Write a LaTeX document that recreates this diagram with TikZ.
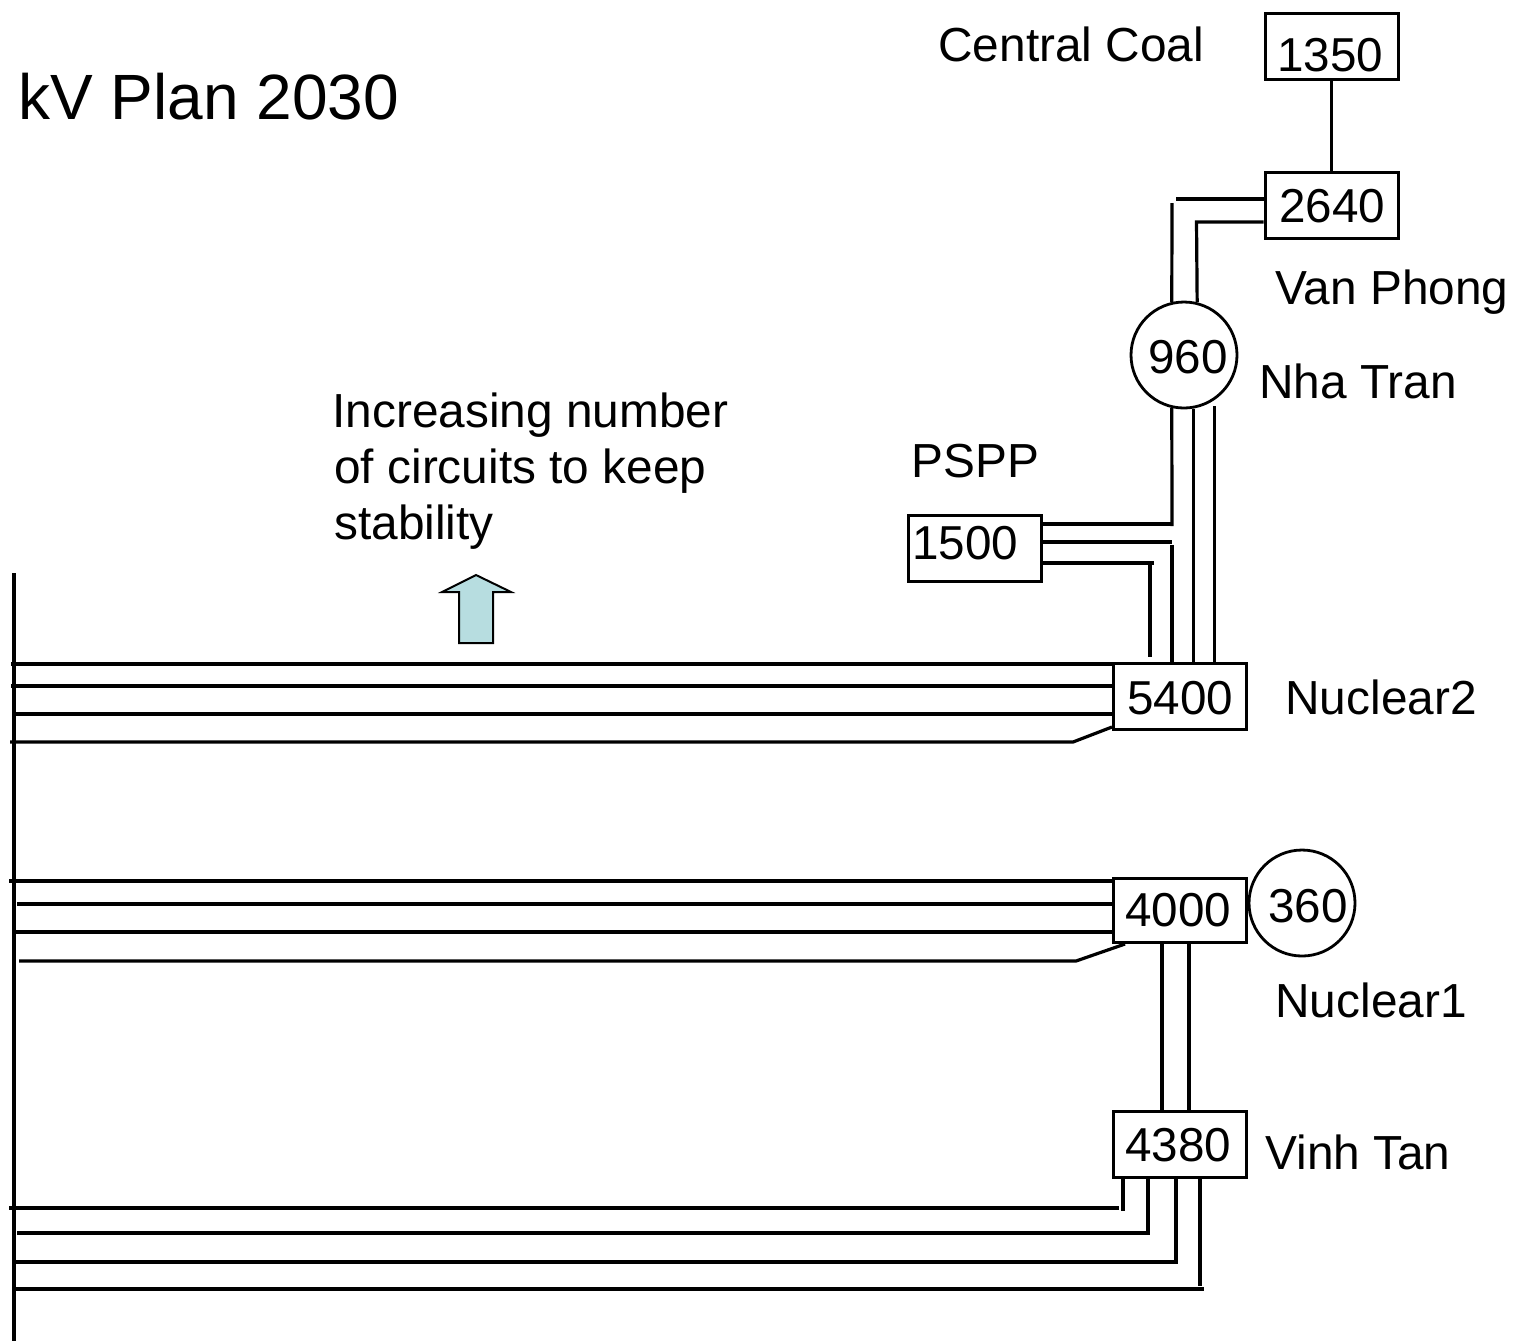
\documentclass[tikz,border=0pt]{standalone}
\usepackage{fontspec}
\setmainfont{Liberation Sans}
\definecolor{arrowfill}{RGB}{183,221,224}
\begin{document}
\begin{tikzpicture}[x=0.5pt,y=-0.5pt,
  wire/.style={line width=1.6pt},
  box/.style={draw, line width=1.5pt, inner sep=0pt, minimum width=66.5pt, minimum height=33pt},
  ring/.style={draw, circle, line width=1.4pt, inner sep=0pt, minimum size=53pt},
  num/.style={inner sep=0pt, anchor=base, font=\fontsize{23.8pt}{28pt}\selectfont},
  lbl/.style={inner sep=0pt, anchor=base west, font=\fontsize{23.9pt}{28pt}\selectfont}]
\useasboundingbox[fill=white] (0,0) rectangle (1518,1341);

% ---- stations ----
\node[box] (b1350) at (1331.5,46.5) {};
\node[box] (b2640) at (1331.5,205.5) {};
\node[box] (b1500) at (974.5,548) {};
\node[box] (b5400) at (1180,696) {};
\node[box, minimum height=32pt] (b4000) at (1180,910.5) {};
\node[box] (b4380) at (1179.5,1144) {};
\node[ring] (c960) at (1184,355) {};
\node[ring] (c360) at (1302,903) {};

% ---- numbers ----
\node[num] (t1350) at (1330,71) {1350};
\node[num] (t2640) at (1332,222) {2640};
\node[num] (t960) at (1188,373) {960};
\node[num] (t1500) at (965,559) {1500};
\node[num] (t5400) at (1180,714) {5400};
\node[num] (t4000) at (1178,926) {4000};
\node[num] (t360) at (1308,922) {360};
\node[num] (t4380) at (1178,1161) {4380};

% ---- labels ----
\node[inner sep=0pt, anchor=base west, font=\fontsize{32pt}{38pt}\selectfont] (title) at (18,119) {kV Plan 2030};
\node[lbl] (lcoal) at (938,61) {Central Coal};
\node[lbl] (lvan) at (1275,304) {Van Phong};
\node[lbl] (lnha) at (1259,398) {Nha Tran};
\node[lbl] (lpspp) at (911,477) {PSPP};
\node[lbl] (lnuc2) at (1285,714) {Nuclear2};
\node[lbl] (lnuc1) at (1275,1017) {Nuclear1};
\node[lbl] (lvinh) at (1265,1169) {Vinh Tan};
\node[lbl] (inc1) at (332,427) {Increasing number};
\node[lbl] (inc2) at (334,483) {of circuits to keep};
\node[lbl] (inc3) at (334,539) {stability};

% ---- up arrow ----
\draw[line width=1pt, fill=arrowfill, line join=miter]
  (476,575) -- (511,592) -- (493,592) -- (493,643) -- (459,643) -- (459,592) -- (442,592) -- cycle;

% ---- left bus ----
\coordinate (bustop) at (14,573);
\coordinate (busbot) at (14,1341);
\draw[wire] (bustop) -- (busbot);

% ---- 1350 - 2640 ----
\draw[wire] (b1350.south) -- (b2640.north);

% ---- 2640 - 960 ----
\draw[wire] (1176,199) -- (0,199 -| b2640.west);
\draw[wire] (1172,203) -- (c960.103);
\draw[wire] (0,222 -| b2640.west) -- (1196.5,222) -- (c960.76);

% ---- 960 - 5400 ----
\draw[wire] (c960.257) -- (1172,526);
\draw[wire] (c960.280) -- (c960.280 |- b5400.north);
\draw[wire] ([yshift=-3pt]c960.304) -- (c960.304 |- b5400.north);

% ---- 1500 - 5400 ----
\draw[wire] (0,524 -| b1500.east) -- (1172,524);
\draw[wire] (0,542 -| b1500.east) -- (1172,542);
\draw[wire] (1172,545) -- (1172,545 |- b5400.north);
\draw[wire] (0,563 -| b1500.east) -- (1154,563);
\draw[wire] (1150,562) -- (1150,657);

% ---- 5400 - bus ----
\draw[wire] (11,664) -- (0,664 -| b5400.west);
\draw[wire] (11,686) -- (0,686 -| b5400.west);
\draw[wire] (15,714) -- (0,714 -| b5400.west);
\draw[wire] (10,742) -- (1073,742) -- (0,727 -| b5400.west);

% ---- 4000 - bus ----
\draw[wire] (9,881) -- (0,881 -| b4000.west);
\draw[wire] (17,904) -- (0,904 -| b4000.west);
\draw[wire] (15,932) -- (0,932 -| b4000.west);
\draw[wire] (19,961) -- (1076,961) -- (1125,944);

% ---- 4000 - 4380 ----
\draw[wire] (1162,943) -- (1162,1110);
\draw[wire] (1189,943) -- (1189,1110);

% ---- 4380 - bus ----
\draw[wire] (9,1208) -- (1119,1208);
\draw[wire] (1123,1178) -- (1123,1211);
\draw[wire] (17,1233) -- (1148,1233) -- (1148,1178);
\draw[wire] (12,1262) -- (1176,1262) -- (1176,1178);
\draw[wire] (15,1289) -- (1204,1289);
\draw[wire] (1200,1178) -- (1200,1286);
\end{tikzpicture}
\end{document}
